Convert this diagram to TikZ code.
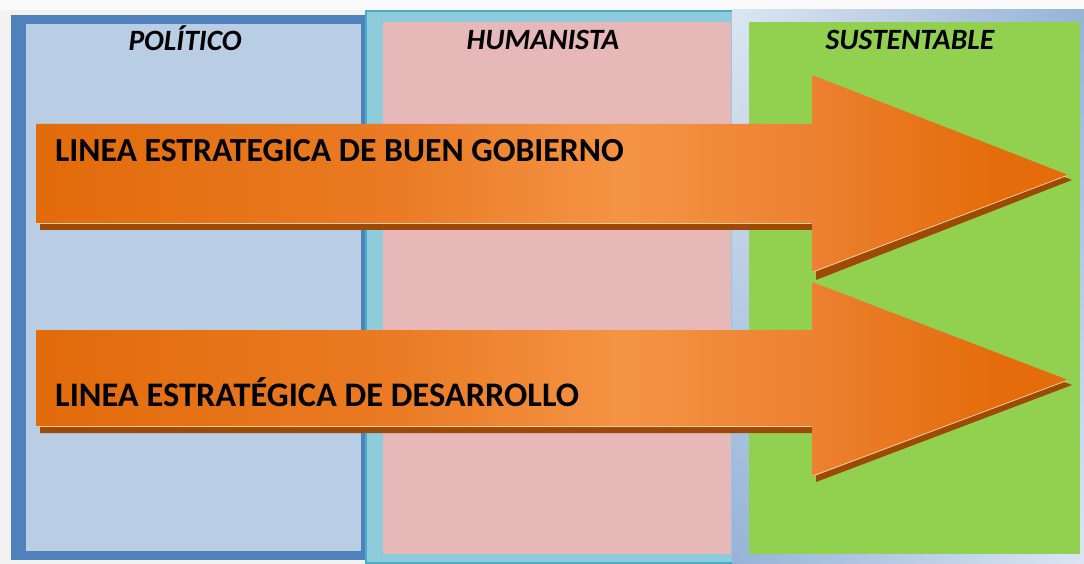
\documentclass[tikz,border=0pt]{standalone}
\usepackage{fontspec}
\setmainfont{Carlito}
\usetikzlibrary{shadings}
\definecolor{bgc}{HTML}{F2F2F2}
\definecolor{leftbd}{HTML}{4F81BD}
\definecolor{leftfl}{HTML}{B9CDE5}
\definecolor{midbd}{HTML}{8ECBDB}
\definecolor{midln}{HTML}{4BACC6}
\definecolor{midfl}{HTML}{E6B8B7}
\definecolor{rgtdark}{HTML}{95B3D7}
\definecolor{rgtlight}{HTML}{DCE6F2}
\definecolor{rgtfl}{HTML}{92D050}
\definecolor{shadowc}{HTML}{9C4A06}
\definecolor{oa}{HTML}{E26B0A}
\definecolor{ob}{HTML}{EA7B24}
\definecolor{oc}{HTML}{F59445}
\definecolor{od}{HTML}{EC8131}
\definecolor{oe}{HTML}{E46C0A}
\definecolor{hilite}{HTML}{F9C9A0}
\pgfdeclarehorizontalshading{arrowshade}{100bp}{color(0bp)=(oa); color(25bp)=(oa); color(42.5bp)=(ob); color(53.5bp)=(oc); color(62.5bp)=(od); color(71.5bp)=(oe); color(100bp)=(oe)}
\tikzset{
  head/.style={font=\bfseries\itshape\fontsize{29.5}{31}\selectfont, anchor=base, inner sep=0pt},
  linetext/.style={font=\bfseries\fontsize{33.7}{36}\selectfont, anchor=base west, inner sep=0pt},
  arrowbody/.style={shading=arrowshade},
  arrowshadow/.style={fill=shadowc},
}
\begin{document}
\begin{tikzpicture}[x=1pt,y=-1pt]
\useasboundingbox (0,0) rectangle (1084,564);
\fill[bgc] (0,0) rectangle (1084,564);
\fill[white!60!bgc] (0,0) rectangle (1084,10);
% left column
\fill[leftbd] (11,15) rectangle (366,560);
\fill[leftfl] (26,24) rectangle (361,551);
% middle column
\fill[midbd] (365,10) rectangle (733,564);
\draw[midln, line width=1.5pt] (366,11) rectangle (733,563);
\fill[midfl] (383,22) rectangle (731,554);
% right column
\shade[upper left=rgtlight, upper right=rgtdark, lower left=rgtdark, lower right=rgtlight] (732,10) rectangle (1084,564);
\fill[rgtfl] (749,22) rectangle (1080,554);
% arrow 1
\fill[arrowshadow] (40,129) -- (816,129) -- (816,80) -- (1072,180) -- (816,280) -- (816,230) -- (40,230) -- cycle;
\path[arrowbody] (36,124) -- (812,124) -- (812,75) -- (1068,175) -- (812,273) -- (812,224) -- (36,224) -- cycle;
\draw[hilite, line width=0.8pt] (36,223.5) -- (811,223.5) (812.5,272) -- (1067,175.5);
% arrow 2
\fill[arrowshadow] (40,335) -- (816,335) -- (816,287) -- (1072,385) -- (816,482) -- (816,433) -- (40,433) -- cycle;
\path[arrowbody] (36,330) -- (812,330) -- (812,282) -- (1068,380) -- (812,477) -- (812,427) -- (36,427) -- cycle;
\draw[hilite, line width=0.8pt] (36,426.5) -- (811,426.5) (812.5,476) -- (1067,380.5);
% texts
\node[head] (hpol) at (185,51) {POLÍTICO};
\node[head] (hhum) at (543,50) {HUMANISTA};
\node[head] (hsus) at (910,50) {SUSTENTABLE};
\node[linetext] (l1) at (55,162) {LINEA ESTRATEGICA DE BUEN GOBIERNO};
\node[linetext, font=\bfseries\fontsize{34.4}{36}\selectfont] (l2) at (55,406) {LINEA ESTRATÉGICA DE DESARROLLO};
\end{tikzpicture}
\end{document}
